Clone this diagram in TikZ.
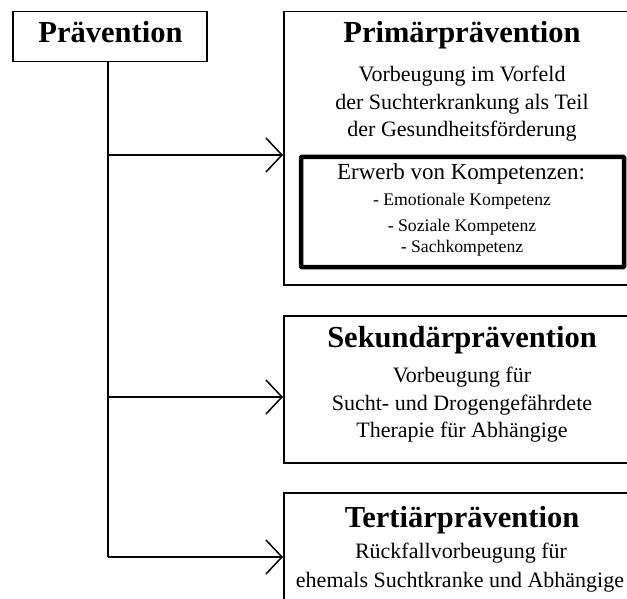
\documentclass[tikz,border=0pt]{standalone}
\usepackage{fontspec}
\setmainfont{Liberation Serif}
\usetikzlibrary{arrows.meta}
\begin{document}
\begin{tikzpicture}[x=1pt,y=-1pt,
  box/.style={draw, line width=1.5pt, rectangle, inner sep=0pt, anchor=north west},
  thickbox/.style={draw, line width=4.5pt, rectangle, rounded corners=0.8pt, inner sep=0pt},
  title/.style={anchor=base, inner sep=0pt, font=\fontsize{30.5}{36}\selectfont\bfseries},
  body/.style={anchor=base, inner sep=0pt, font=\fontsize{22}{26}\selectfont},
  khead/.style={anchor=base, inner sep=0pt, font=\fontsize{23}{27}\selectfont},
  kitem/.style={anchor=base, inner sep=0pt, font=\fontsize{17.7}{21}\selectfont},
  conn/.style={line width=1.5pt, -{Straight Barb[length=16pt,width=34pt,line width=1.5pt]}}]
\useasboundingbox (0,0) rectangle (627,599);
\clip (0,0) rectangle (627,599);
% boxes
\node[box, minimum width=194pt, minimum height=50pt] (prav) at (12,11) {};
\node[box, minimum width=358pt, minimum height=273pt] (prim) at (283,11) {};
\node[box, minimum width=358pt, minimum height=147pt] (sek) at (283,315) {};
\node[box, minimum width=358pt, minimum height=113pt] (tert) at (283,492) {};
\node[thickbox, minimum width=323pt, minimum height=110pt] (komp) at (462.5,212) {};
% texts
\node[title] (tprav) at (110.5,43) {Prävention};
\node[title] (tprim) at (462,43) {Primärprävention};
\node[body] (p1) at (462,82) {Vorbeugung im Vorfeld};
\node[body] (p2) at (462,110) {der Suchterkrankung als Teil};
\node[body] (p3) at (462,137) {der Gesundheitsförderung};
\node[khead] (k0) at (461,179) {Erwerb von Kompetenzen:};
\node[kitem] (k1) at (462,205) {- Emotionale Kompetenz};
\node[kitem] (k2) at (462,231) {- Soziale Kompetenz};
\node[kitem] (k3) at (462,252) {- Sachkompetenz};
\node[title] (tsek) at (462,347) {Sekundärprävention};
\node[body] (s1) at (462,382) {Vorbeugung für};
\node[body] (s2) at (462,410) {Sucht- und Drogengefährdete};
\node[body] (s3) at (462,437) {Therapie für Abhängige};
\node[title] (ttert) at (462,527) {Tertiärprävention};
\node[body] (t1) at (461,558) {Rückfallvorbeugung für};
\node[body] (t2) at (460,587) {ehemals Suchtkranke und Abhängige};
% connectors
\coordinate (j1) at (108,155);
\coordinate (j2) at (108,397);
\coordinate (j3) at (108,557);
\draw[line width=1.5pt] (prav.south -| j1) -- (j3);
\draw[conn] (j1) -- (prim.west |- j1);
\draw[conn] (j2) -- (sek.west |- j2);
\draw[conn] (j3) -- (tert.west |- j3);
\end{tikzpicture}
\end{document}
